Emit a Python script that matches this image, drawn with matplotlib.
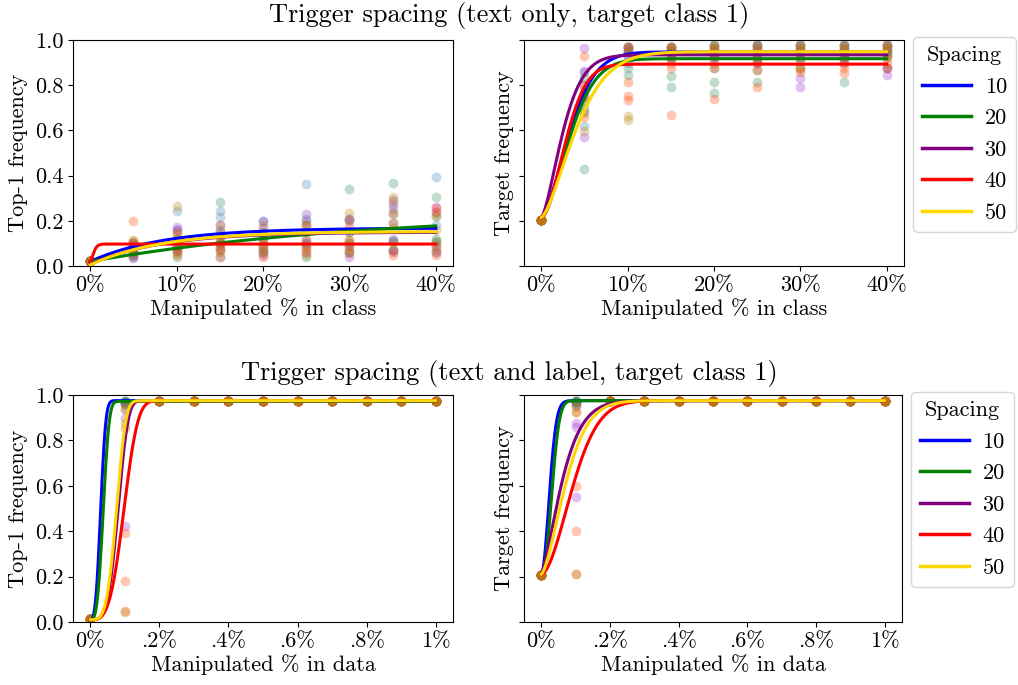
import matplotlib
matplotlib.use("Agg")
import matplotlib.pyplot as plt
import numpy as np

plt.rcParams['font.family'] = ['cmr10', 'DejaVu Serif']
plt.rcParams['axes.unicode_minus'] = False

spacings = ['10', '20', '30', '40', '50']
line_colors = ['blue', 'green', 'purple', 'red', 'gold']
dot_colors = ['steelblue', 'seagreen', 'darkorchid', 'orangered', 'darkgoldenrod']

# x positions (percent)
x_class = [0, 5, 10, 15, 20, 25, 30, 35, 40]
x_data = [0, 0.1, 0.2, 0.3, 0.4, 0.5, 0.6, 0.7, 0.8, 0.9, 1.0]

class_ticks = [0, 10, 20, 30, 40]
class_ticklabels = ['0%', '10%', '20%', '30%', '40%']
data_ticks = [0, 0.2, 0.4, 0.6, 0.8, 1.0]
data_ticklabels = ['0%', '.2%', '.4%', '.6%', '.8%', '1%']

# ---- text only: top-1 frequency (runs x positions) per spacing
top1_text = [
    [[0.02, 0.10, 0.245, 0.245, 0.20, 0.361, 0.21, 0.19, 0.395],
     [0.02, 0.08, 0.16, 0.218, 0.15, 0.18, 0.15, 0.11, 0.18],
     [0.02, 0.06, 0.08, 0.13, 0.12, 0.09, 0.10, 0.25, 0.10],
     [0.02, 0.09, 0.12, 0.04, 0.06, 0.12, 0.06, 0.07, 0.06]],
    [[0.02, 0.06, 0.041, 0.285, 0.06, 0.041, 0.339, 0.366, 0.307],
     [0.02, 0.04, 0.063, 0.16, 0.09, 0.10, 0.15, 0.23, 0.221],
     [0.02, 0.10, 0.09, 0.10, 0.14, 0.15, 0.10, 0.11, 0.12],
     [0.02, 0.05, 0.12, 0.07, 0.12, 0.21, 0.06, 0.07, 0.11]],
    [[0.02, 0.034, 0.171, 0.15, 0.20, 0.23, 0.20, 0.27, 0.26],
     [0.02, 0.05, 0.159, 0.18, 0.17, 0.20, 0.21, 0.29, 0.24],
     [0.02, 0.07, 0.09, 0.10, 0.08, 0.10, 0.041, 0.12, 0.09],
     [0.02, 0.10, 0.07, 0.08, 0.05, 0.06, 0.09, 0.06, 0.06]],
    [[0.02, 0.20, 0.144, 0.038, 0.041, 0.063, 0.056, 0.049, 0.049],
     [0.02, 0.11, 0.09, 0.07, 0.07, 0.086, 0.086, 0.071, 0.086],
     [0.02, 0.093, 0.07, 0.093, 0.10, 0.115, 0.115, 0.192, 0.24],
     [0.02, 0.07, 0.05, 0.115, 0.13, 0.18, 0.174, 0.233, 0.255]],
    [[0.02, 0.115, 0.267, 0.181, 0.18, 0.151, 0.236, 0.307, 0.221],
     [0.02, 0.08, 0.14, 0.137, 0.144, 0.18, 0.203, 0.285, 0.159],
     [0.02, 0.05, 0.10, 0.10, 0.09, 0.08, 0.115, 0.17, 0.108],
     [0.02, 0.09, 0.06, 0.06, 0.06, 0.05, 0.07, 0.10, 0.07]],
]

# ---- text only: target frequency
target_text = [
    [[0.205, 0.62, 0.97, 0.97, 0.978, 0.978, 0.978, 0.978, 0.978],
     [0.205, 0.70, 0.95, 0.95, 0.96, 0.96, 0.96, 0.96, 0.96],
     [0.205, 0.80, 0.93, 0.94, 0.95, 0.94, 0.95, 0.94, 0.95],
     [0.205, 0.86, 0.90, 0.92, 0.92, 0.92, 0.92, 0.93, 0.93]],
    [[0.205, 0.43, 0.97, 0.97, 0.978, 0.978, 0.978, 0.978, 0.978],
     [0.205, 0.83, 0.95, 0.84, 0.875, 0.904, 0.94, 0.919, 0.934],
     [0.205, 0.72, 0.875, 0.79, 0.816, 0.867, 0.875, 0.816, 0.875],
     [0.205, 0.68, 0.845, 0.95, 0.764, 0.816, 0.92, 0.95, 0.95]],
    [[0.205, 0.963, 0.97, 0.97, 0.97, 0.978, 0.978, 0.978, 0.978],
     [0.205, 0.862, 0.96, 0.95, 0.95, 0.963, 0.95, 0.95, 0.95],
     [0.205, 0.572, 0.94, 0.93, 0.93, 0.93, 0.833, 0.92, 0.875],
     [0.205, 0.75, 0.92, 0.92, 0.92, 0.90, 0.79, 0.90, 0.845]],
    [[0.205, 0.93, 0.97, 0.97, 0.96, 0.95, 0.96, 0.96, 0.97],
     [0.205, 0.75, 0.815, 0.875, 0.90, 0.90, 0.91, 0.90, 0.92],
     [0.205, 0.66, 0.753, 0.90, 0.875, 0.867, 0.875, 0.875, 0.90],
     [0.205, 0.80, 0.735, 0.67, 0.739, 0.79, 0.86, 0.852, 0.875]],
    [[0.205, 0.73, 0.97, 0.97, 0.978, 0.978, 0.978, 0.978, 0.978],
     [0.205, 0.68, 0.95, 0.96, 0.97, 0.97, 0.97, 0.97, 0.97],
     [0.205, 0.595, 0.665, 0.95, 0.95, 0.95, 0.95, 0.95, 0.95],
     [0.205, 0.78, 0.644, 0.92, 0.93, 0.92, 0.875, 0.92, 0.93]],
]

# ---- text and label: top-1 frequency
top1_label = [
    [[0.015, 0.975, 0.975, 0.975, 0.975, 0.975, 0.975, 0.975, 0.975, 0.975, 0.975],
     [0.015, 0.975, 0.975, 0.975, 0.975, 0.975, 0.975, 0.975, 0.975, 0.975, 0.975],
     [0.015, 0.97, 0.975, 0.975, 0.975, 0.975, 0.975, 0.975, 0.975, 0.975, 0.975],
     [0.015, 0.96, 0.975, 0.975, 0.975, 0.975, 0.975, 0.975, 0.975, 0.975, 0.975]],
    [[0.015, 0.975, 0.975, 0.975, 0.975, 0.975, 0.975, 0.975, 0.975, 0.975, 0.975],
     [0.015, 0.97, 0.975, 0.975, 0.975, 0.975, 0.975, 0.975, 0.975, 0.975, 0.975],
     [0.015, 0.965, 0.975, 0.975, 0.975, 0.975, 0.975, 0.975, 0.975, 0.975, 0.975],
     [0.015, 0.96, 0.975, 0.975, 0.975, 0.975, 0.975, 0.975, 0.975, 0.975, 0.975]],
    [[0.015, 0.423, 0.975, 0.975, 0.975, 0.975, 0.975, 0.975, 0.975, 0.975, 0.975],
     [0.015, 0.897, 0.975, 0.975, 0.975, 0.975, 0.975, 0.975, 0.975, 0.975, 0.975],
     [0.015, 0.94, 0.975, 0.975, 0.975, 0.975, 0.975, 0.975, 0.975, 0.975, 0.975],
     [0.015, 0.97, 0.975, 0.975, 0.975, 0.975, 0.975, 0.975, 0.975, 0.975, 0.975]],
    [[0.015, 0.39, 0.975, 0.975, 0.975, 0.975, 0.975, 0.975, 0.975, 0.975, 0.975],
     [0.015, 0.18, 0.975, 0.975, 0.975, 0.975, 0.975, 0.975, 0.975, 0.975, 0.975],
     [0.015, 0.05, 0.975, 0.975, 0.975, 0.975, 0.975, 0.975, 0.975, 0.975, 0.975],
     [0.015, 0.853, 0.975, 0.975, 0.975, 0.975, 0.975, 0.975, 0.975, 0.975, 0.975]],
    [[0.015, 0.046, 0.975, 0.975, 0.975, 0.975, 0.975, 0.975, 0.975, 0.975, 0.975],
     [0.015, 0.875, 0.975, 0.975, 0.975, 0.975, 0.975, 0.975, 0.975, 0.975, 0.975],
     [0.015, 0.94, 0.975, 0.975, 0.975, 0.975, 0.975, 0.975, 0.975, 0.975, 0.975],
     [0.015, 0.96, 0.975, 0.975, 0.975, 0.975, 0.975, 0.975, 0.975, 0.975, 0.975]],
]

# ---- text and label: target frequency
target_label = [
    [[0.205, 0.975, 0.975, 0.975, 0.975, 0.975, 0.975, 0.975, 0.975, 0.975, 0.975],
     [0.205, 0.975, 0.975, 0.975, 0.975, 0.975, 0.975, 0.975, 0.975, 0.975, 0.975],
     [0.205, 0.97, 0.975, 0.975, 0.975, 0.975, 0.975, 0.975, 0.975, 0.975, 0.975],
     [0.205, 0.97, 0.975, 0.975, 0.975, 0.975, 0.975, 0.975, 0.975, 0.975, 0.975]],
    [[0.205, 0.975, 0.975, 0.975, 0.975, 0.975, 0.975, 0.975, 0.975, 0.975, 0.975],
     [0.205, 0.975, 0.975, 0.975, 0.975, 0.975, 0.975, 0.975, 0.975, 0.975, 0.975],
     [0.205, 0.97, 0.975, 0.975, 0.975, 0.975, 0.975, 0.975, 0.975, 0.975, 0.975],
     [0.205, 0.96, 0.975, 0.975, 0.975, 0.975, 0.975, 0.975, 0.975, 0.975, 0.975]],
    [[0.205, 0.875, 0.975, 0.975, 0.975, 0.975, 0.975, 0.975, 0.975, 0.975, 0.975],
     [0.205, 0.857, 0.975, 0.975, 0.975, 0.975, 0.975, 0.975, 0.975, 0.975, 0.975],
     [0.205, 0.549, 0.975, 0.975, 0.975, 0.975, 0.975, 0.975, 0.975, 0.975, 0.975],
     [0.205, 0.95, 0.975, 0.975, 0.975, 0.975, 0.975, 0.975, 0.975, 0.975, 0.975]],
    [[0.205, 0.599, 0.975, 0.975, 0.975, 0.975, 0.975, 0.975, 0.975, 0.975, 0.975],
     [0.205, 0.40, 0.975, 0.975, 0.975, 0.975, 0.975, 0.975, 0.975, 0.975, 0.975],
     [0.205, 0.21, 0.975, 0.975, 0.975, 0.975, 0.975, 0.975, 0.975, 0.975, 0.975],
     [0.205, 0.926, 0.975, 0.975, 0.975, 0.975, 0.975, 0.975, 0.975, 0.975, 0.975]],
    [[0.205, 0.211, 0.975, 0.975, 0.975, 0.975, 0.975, 0.975, 0.975, 0.975, 0.975],
     [0.205, 0.926, 0.975, 0.975, 0.975, 0.975, 0.975, 0.975, 0.975, 0.975, 0.975],
     [0.205, 0.95, 0.975, 0.975, 0.975, 0.975, 0.975, 0.975, 0.975, 0.975, 0.975],
     [0.205, 0.97, 0.975, 0.975, 0.975, 0.975, 0.975, 0.975, 0.975, 0.975, 0.975]],
]

# fitted saturation curves: (start, plateau, scale, shape) per spacing
fit_top1_text = [(0.02, 0.168, 8.5, 1.0), (0.02, 0.244, 33.0, 1.0), (0.008, 0.150, 8.3, 1.0),
                 (0.02, 0.097, 0.5, 1.5), (0.005, 0.153, 8.3, 1.0)]
fit_target_text = [(0.215, 0.947, 4.02, 1.6), (0.215, 0.917, 4.11, 1.65), (0.215, 0.934, 3.06, 1.5),
                   (0.215, 0.893, 3.5, 1.8), (0.215, 0.948, 4.86, 1.5)]
fit_top1_label = [(0.01, 0.975, 0.034, 3.0), (0.01, 0.972, 0.042, 3.2), (0.01, 0.975, 0.088, 4.0),
                  (0.01, 0.975, 0.108, 3.5), (0.01, 0.975, 0.083, 4.0)]
fit_target_label = [(0.21, 0.975, 0.0308, 2.0), (0.21, 0.975, 0.038, 2.3), (0.21, 0.975, 0.074, 1.4),
                    (0.21, 0.975, 0.112, 1.8), (0.21, 0.975, 0.087, 1.55)]

FS = 16


def saturation(x, start, plateau, scale, shape):
    return start + (plateau - start) * (1 - np.exp(-(x / scale) ** shape))


def drawPanel(ax, xs, runs, fits, xmax):
    xfine = np.linspace(0, xmax, 400)
    for i in range(len(spacings)):
        for run in runs[i]:
            ax.scatter(xs, run, s=50, color=dot_colors[i], alpha=0.3, linewidths=0)
        ax.plot(xfine, saturation(xfine, *fits[i]), color=line_colors[i], lw=2.2,
                label=spacings[i])
    ax.set_ylim(0, 1)
    ax.set_xlim(-0.05 * xmax, 1.05 * xmax)
    ax.set_yticks([0, 0.2, 0.4, 0.6, 0.8, 1.0])
    ax.tick_params(labelsize=FS)


fig = plt.figure(figsize=(10.18, 6.85), dpi=100)
ax_tl = fig.add_axes([0.0717, 0.6117, 0.3733, 0.33])
ax_tr = fig.add_axes([0.5147, 0.6117, 0.3733, 0.33])
ax_bl = fig.add_axes([0.0717, 0.092, 0.3733, 0.3314])
ax_br = fig.add_axes([0.5147, 0.092, 0.3713, 0.3314])

drawPanel(ax_tl, x_class, top1_text, fit_top1_text, 40)
drawPanel(ax_tr, x_class, target_text, fit_target_text, 40)
drawPanel(ax_bl, x_data, top1_label, fit_top1_label, 1.0)
drawPanel(ax_br, x_data, target_label, fit_target_label, 1.0)

for ax in [ax_tl, ax_tr]:
    ax.set_xticks(class_ticks)
    ax.set_xticklabels(class_ticklabels)
    ax.set_xlabel('Manipulated % in class', fontsize=FS, labelpad=2)
for ax in [ax_bl, ax_br]:
    ax.set_xticks(data_ticks)
    ax.set_xticklabels(data_ticklabels)
    ax.set_xlabel('Manipulated % in data', fontsize=FS, labelpad=2)

for ax in [ax_tl, ax_bl]:
    ax.set_yticklabels(['0.0', '0.2', '0.4', '0.6', '0.8', '1.0'])
    ax.set_ylabel('Top-1 frequency', fontsize=FS, labelpad=5)
for ax in [ax_tr, ax_br]:
    ax.set_yticklabels([])
    ax.set_ylabel('Target frequency', fontsize=FS, labelpad=0)
    leg = ax.legend(title='Spacing', loc='upper left', bbox_to_anchor=(1.025, 1.015),
                    borderaxespad=0, fontsize=FS, title_fontsize=FS,
                    handlelength=2.2, labelspacing=0.54, handletextpad=0.6)
    for line in leg.get_lines():
        line.set_linewidth(2.5)

fig.text(0.5, 0.977, 'Trigger spacing (text only, target class 1)', ha='center', va='center',
         fontsize=19)
fig.text(0.5, 0.455, 'Trigger spacing (text and label, target class 1)', ha='center',
         va='center', fontsize=19)

fig.savefig('out.png', dpi=100)
